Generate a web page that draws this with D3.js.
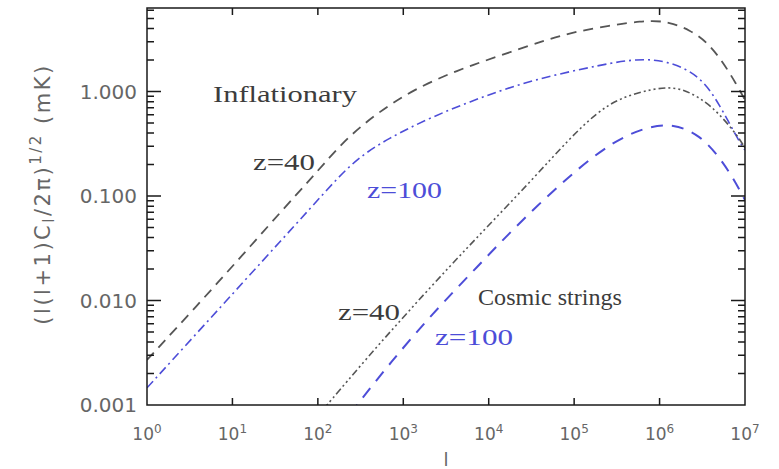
<!DOCTYPE html>
<html lang="en">
<head>
<meta charset="UTF-8">
<title>Cl spectra: inflationary vs cosmic strings</title>
<script src="https://d3js.org/d3.v7.min.js"></script>
<style>
  body { margin: 0; background: #fff; }
</style>
</head>
<body>
<svg width="779" height="469"></svg>
<script>
// multipole l and (l(l+1)C_l/2pi)^1/2 in mK
const inflZ40L  = [1, 4.77, 17.4, 41, 75, 115, 219, 492, 1300, 4260, 13500, 48000, 117000, 713000, 1.32e6, 2.27e6, 3.59e6, 5.52e6, 8.05e6, 1e7];
const inflZ40   = [0.0027, 0.0108, 0.0353, 0.0778, 0.134, 0.199, 0.359, 0.62, 1.04, 1.6, 2.2, 3.15, 3.85, 4.9, 4.6, 3.88, 2.98, 1.92, 1.15, 0.83];
const inflZ100L = [1, 3.85, 14.8, 36, 81, 150, 287, 645, 2230, 8570, 33000, 218000, 544000, 1.22e6, 2.97e6, 5.1e6, 8.05e6, 1e7];
const inflZ100  = [0.00146, 0.00489, 0.0164, 0.0365, 0.0757, 0.133, 0.228, 0.352, 0.58, 0.895, 1.3, 1.82, 2.06, 1.98, 1.44, 0.74, 0.36, 0.275];
const strZ40L   = [106, 128, 376, 1104, 3520, 9550, 30400, 89400, 185000, 344000, 838000, 1.73e6, 3.59e6, 5.52e6, 8.05e6, 1e7];
const strZ40    = [0.00084, 0.001, 0.00282, 0.0076, 0.0214, 0.0505, 0.136, 0.359, 0.63, 0.87, 1.07, 1.12, 0.79, 0.557, 0.384, 0.288];
const strZ100L  = [238, 287, 699, 2230, 7290, 23200, 89400, 285000, 713000, 1.44e6, 2.97e6, 5.1e6, 7.24e6, 1e7];
const strZ100   = [0.00082, 0.001, 0.00252, 0.0076, 0.0209, 0.0564, 0.159, 0.335, 0.46, 0.495, 0.384, 0.231, 0.149, 0.0916];

const xTicks = [1, 10, 100, 1e3, 1e4, 1e5, 1e6, 1e7];
const xExp   = ["0", "1", "2", "3", "4", "5", "6", "7"];
const yTicks = [0.001, 0.01, 0.1, 1];
const yTickLabels = ["0.001", "0.010", "0.100", "1.000"];

const svg = d3.select("svg");
const x0 = 147, x1 = 745, y0 = 8, y1 = 405;
const blue = "#4d4dd8", dark = "#3c3c3c";

const x = d3.scaleLog().domain([1, 1e7]).range([x0, x1]);
const y = d3.scaleLog().domain([0.001, 6.3]).range([y1, y0]);

svg.append("rect").attr("width", 779).attr("height", 469).attr("fill", "#fff");

svg.append("clipPath").attr("id", "plot")
  .append("rect").attr("x", x0).attr("y", y0)
  .attr("width", x1 - x0).attr("height", y1 - y0);

// curves (basis spline rounds off the bends like the original)
const line = d3.line().x(d => x(d[0])).y(d => y(d[1])).curve(d3.curveBasis);
const series = [
  { l: inflZ40L,  v: inflZ40,  color: "#555", dash: "10,7",            w: 1.8 },
  { l: inflZ100L, v: inflZ100, color: blue,   dash: "9,4,2,4",         w: 1.6 },
  { l: strZ40L,   v: strZ40,   color: "#555", dash: "7,3,2,3,2,3,2,3", w: 1.6 },
  { l: strZ100L,  v: strZ100,  color: blue,   dash: "12,9",            w: 2 }
];
svg.append("g").attr("clip-path", "url(#plot)")
  .selectAll("path").data(series).enter().append("path")
  .attr("d", s => line(s.l.map((l, i) => [l, s.v[i]])))
  .attr("fill", "none")
  .attr("stroke", s => s.color)
  .attr("stroke-width", s => s.w)
  .attr("stroke-dasharray", s => s.dash);

// frame and ticks
const axes = svg.append("g").attr("stroke", "#1a1a1a").attr("stroke-width", 1.5);
axes.append("rect").attr("x", x0).attr("y", y0)
  .attr("width", x1 - x0).attr("height", y1 - y0).attr("fill", "none");

axes.selectAll(".xt").data(xTicks.slice(1, -1)).enter().append("path")
  .attr("d", d => `M${x(d)},${y1}v-7M${x(d)},${y0}v7`);

const yMinor = [];
for (let e = -3; e <= 0; e++) for (let m = 2; m <= 9; m++) {
  const v = m * Math.pow(10, e);
  if (v < 6.3) yMinor.push(v);
}
axes.selectAll(".ymin").data(yMinor).enter().append("path")
  .attr("d", d => `M${x0},${y(d)}h7M${x1},${y(d)}h-7`);
axes.selectAll(".ymaj").data(yTicks.slice(1)).enter().append("path")
  .attr("d", d => `M${x0},${y(d)}h14M${x1},${y(d)}h-14`);

// tick labels
svg.selectAll(".yl").data(yTicks).enter().append("text")
  .attr("x", 137).attr("y", d => y(d) + 7)
  .attr("text-anchor", "end")
  .attr("font-family", "DejaVu Sans").attr("font-size", 20)
  .attr("fill", "#666")
  .text((d, i) => yTickLabels[i]);

const xl = svg.selectAll(".xl").data(xTicks).enter().append("text")
  .attr("x", d => x(d)).attr("y", 440)
  .attr("text-anchor", "middle")
  .attr("font-family", "DejaVu Sans").attr("font-size", 17)
  .attr("fill", "#666");
xl.append("tspan").text("10");
xl.append("tspan").attr("dy", -7).attr("font-size", 12).text((d, i) => xExp[i]);

svg.append("text").attr("x", (x0 + x1) / 2).attr("y", 466)
  .attr("text-anchor", "middle")
  .attr("font-family", "DejaVu Sans").attr("font-size", 18).attr("fill", "#666")
  .text("l");

const yt = svg.append("text")
  .attr("transform", "translate(50,194) rotate(-90)")
  .attr("text-anchor", "middle")
  .attr("font-family", "DejaVu Sans").attr("font-size", 21).attr("fill", "#666")
  .attr("letter-spacing", 2.5);
yt.append("tspan").text("(l(l+1)C");
yt.append("tspan").attr("font-size", 15).attr("dy", 4).text("l");
yt.append("tspan").attr("dy", -4).text("/2π)");
yt.append("tspan").attr("font-size", 15).attr("dy", -9).text("1/2");
yt.append("tspan").attr("dy", 9).text(" (mK)");

// annotations
const notes = [
  { t: "Inflationary",   x: 213, y: 102, w: 144, c: dark },
  { t: "z=40",           x: 253, y: 170, w: 62,  c: dark },
  { t: "z=100",          x: 367, y: 198, w: 75,  c: blue },
  { t: "Cosmic strings", x: 478, y: 305, w: 144, c: dark },
  { t: "z=40",           x: 338, y: 320, w: 62,  c: dark },
  { t: "z=100",          x: 435, y: 345, w: 78,  c: blue }
];
svg.selectAll(".note").data(notes).enter().append("text")
  .attr("x", d => d.x).attr("y", d => d.y)
  .attr("font-family", "Liberation Serif").attr("font-size", 23)
  .attr("fill", d => d.c)
  .attr("textLength", d => d.w).attr("lengthAdjust", "spacingAndGlyphs")
  .text(d => d.t);
</script>
</body>
</html>
